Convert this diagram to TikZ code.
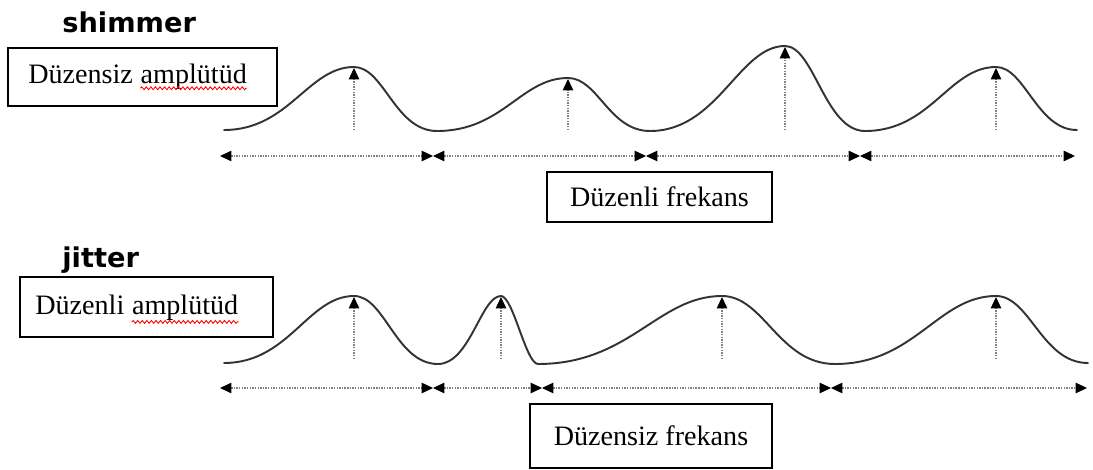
\documentclass[tikz,border=0pt]{standalone}
\usepackage{fontspec}
\setmainfont{Liberation Serif}
\newfontfamily\headfont{DejaVu Sans}
\usetikzlibrary{arrows.meta,decorations.pathmorphing}

\tikzset{
  wave/.style={line width=1.1pt, black!80, line cap=round},
  guide/.style={gray, line width=0.6pt, dash pattern=on 0.8pt off 0.7pt, -{Triangle[length=6.5pt,width=6pt,black]}},
  period/.style={gray, line width=0.6pt, dash pattern=on 0.8pt off 0.7pt, {Triangle[length=6.5pt,width=6pt,black]}-{Triangle[length=6.5pt,width=6pt,black]}},
  box/.style={draw, line width=0.8pt, inner sep=0pt},
  txt/.style={inner sep=0pt, font=\fontsize{16}{19}\selectfont},
  head/.style={inner sep=0pt, font=\headfont\bfseries\fontsize{15.5}{18}\selectfont},
  spell/.style={red, line width=0.5pt, decorate, decoration={snake, amplitude=0.8pt, segment length=2.6pt}}
}

\begin{document}
\begin{tikzpicture}[x=0.02cm, y=-0.02cm]
\useasboundingbox (0,0) rectangle (1093,470);

% shimmer
\node[head, anchor=base west] (shim) at (62,32) {shimmer};
\node[box, minimum width=5.38cm, minimum height=1.16cm] (ampbox1) at (142.5,77) {};
\node[txt, anchor=base west] (amp1a) at (28,83) {Düzensiz};
\node[txt, anchor=base west] (amp1b) at ([xshift=4pt]amp1a.base east) {amplütüd};
\draw[spell] ([yshift=-3pt]amp1b.base west) -- ([yshift=-3pt]amp1b.base east);

\draw[wave] (224,130) .. controls +(65,0) and +(-46,0) .. (354,67)
  .. controls +(30,0) and +(-42,0) .. (437,131)
  .. controls +(66,0) and +(-47,0) .. (568,78)
  .. controls +(30,0) and +(-41,0) .. (650,131)
  .. controls +(68,0) and +(-46,0) .. (785,46)
  .. controls +(29,0) and +(-40,0) .. (865,131)
  .. controls +(66,0) and +(-47,0) .. (996,67)
  .. controls +(29,0) and +(-40,0) .. (1077,130);

\foreach \x/\y [count=\i] in {354/68, 568/79, 785/47, 996/68} {
  \coordinate (sb\i) at (\x,130);
  \coordinate (sp\i) at (\x,\y);
  \draw[guide] (sb\i) -- (sp\i);
}

\foreach \x [count=\i from 0] in {220,433,646,860,1075}
  \coordinate (s\i) at (\x,156);
\foreach \i/\j in {0/1,1/2,2/3,3/4}
  \draw[period] (s\i) -- (s\j);

\node[box, txt, minimum width=4.5cm, minimum height=1cm] (freq1) at (659.5,197) {Düzenli frekans};

% jitter
\node[head, anchor=base west] (jit) at (62,267) {jitter};
\node[box, minimum width=5.06cm, minimum height=1.2cm] (ampbox2) at (146.5,307) {};
\node[txt, anchor=base west] (amp2a) at (35,314) {Düzenli};
\node[txt, anchor=base west] (amp2b) at ([xshift=4pt]amp2a.base east) {amplütüd};
\draw[spell] ([yshift=-4.5pt]amp2b.base west) -- ([yshift=-4.5pt]amp2b.base east);

\draw[wave] (224,363) .. controls +(65,0) and +(-46,0) .. (354,296)
  .. controls +(31,0) and +(-42,0) .. (438,364)
  .. controls +(32,0) and +(-20,0) .. (501,296)
  .. controls +(12,0) and +(-12,0) .. (538,364)
  .. controls +(92,0) and +(-64,0) .. (722,296)
  .. controls +(42,0) and +(-56,0) .. (835,364)
  .. controls +(80,0) and +(-58,0) .. (996,296)
  .. controls +(34,0) and +(-46,0) .. (1088,363);

\foreach \x [count=\i] in {354,501,722,996} {
  \coordinate (jb\i) at (\x,359);
  \coordinate (jp\i) at (\x,297);
  \draw[guide] (jb\i) -- (jp\i);
}

\foreach \x [count=\i from 0] in {220,433,542,831,1087}
  \coordinate (j\i) at (\x,388);
\foreach \i/\j in {0/1,1/2,2/3,3/4}
  \draw[period] (j\i) -- (j\j);

\node[box, txt, minimum width=4.84cm, minimum height=1.28cm] (freq2) at (651,436) {Düzensiz frekans};
\end{tikzpicture}
\end{document}
